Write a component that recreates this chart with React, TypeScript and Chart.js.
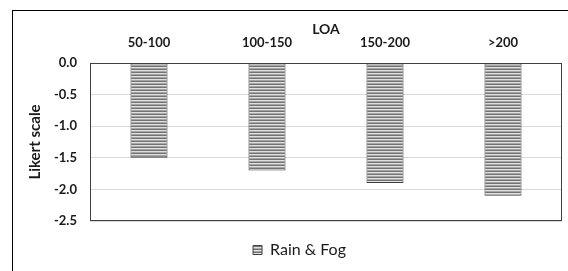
import { useEffect, useRef } from 'react';
import { Chart, registerables } from 'chart.js';

Chart.register(...registerables);

const categories = ['50-100', '100-150', '150-200', '>200'];
const rainFog = [-1.5, -1.7, -1.9, -2.1];
const seriesLabel = 'Rain & Fog';
const xTitle = 'LOA';
const yTitle = 'Likert scale';
const yMin = -2.5;
const yMax = 0;
const yStep = 0.5;

function makePattern(): CanvasPattern | string {
  const c = document.createElement('canvas');
  c.width = 4;
  c.height = 3;
  const g = c.getContext('2d');
  if (!g) return '#a6a6a6';
  g.fillStyle = '#737373';
  g.fillRect(0, 0, 4, 1);
  g.fillStyle = '#e0e0e0';
  g.fillRect(0, 1, 4, 1);
  g.fillStyle = '#a6a6a6';
  g.fillRect(0, 2, 4, 1);
  return g.createPattern(c, 'repeat') || '#a6a6a6';
}

const framePlugin = {
  id: 'plotFrame',
  afterDraw(chart: any) {
    const { ctx, chartArea } = chart;
    const l = Math.round(chartArea.left) + 0.5;
    const t = Math.round(chartArea.top) + 0.5;
    const r = Math.round(chartArea.right) - 0.5;
    const b = Math.round(chartArea.bottom) - 0.5;
    ctx.save();
    ctx.strokeStyle = '#404040';
    ctx.lineWidth = 1;
    ctx.strokeRect(l, t, r - l, b - t);
    ctx.restore();
  },
};

const PAD_TOP = 10;

export default function App() {
  const ref = useRef<HTMLCanvasElement | null>(null);

  useEffect(() => {
    if (!ref.current) return;
    const pattern = makePattern();
    const chart = new Chart(ref.current, {
      type: 'bar',
      data: {
        labels: categories,
        datasets: [
          {
            label: seriesLabel,
            data: rainFog,
            backgroundColor: pattern as any,
            borderColor: '#404040',
            borderWidth: 1,
            borderSkipped: false,
            barPercentage: 0.314,
            categoryPercentage: 1,
          },
        ],
      },
      options: {
        animation: false,
        responsive: false,
        devicePixelRatio: 1,
        layout: { padding: { left: 37, right: 6, top: PAD_TOP, bottom: 3 } },
        plugins: {
          tooltip: { enabled: false },
          legend: {
            position: 'bottom',
            labels: {
              boxWidth: 9,
              boxHeight: 9,
              padding: 21,
              color: '#1a1a1a',
              font: { family: 'Lato', size: 16, weight: 'normal' },
            },
          },
        },
        scales: {
          x: {
            position: 'top',
            grid: { display: false, drawTicks: false },
            border: { display: false },
            ticks: {
              padding: 12,
              maxRotation: 0,
              color: '#1a1a1a',
              font: { family: 'Lato', size: 13, weight: 'bold' },
            },
            title: {
              display: true,
              text: xTitle,
              color: '#1a1a1a',
              padding: { top: 11, bottom: 0 },
              font: { family: 'Lato', size: 14, weight: 'bold' },
            },
            afterFit: (s: any) => {
              s.height = 63 - PAD_TOP;
            },
          },
          y: {
            min: yMin,
            max: yMax,
            grid: { color: '#d9d9d9', drawTicks: false, lineWidth: 1 },
            border: { display: false },
            ticks: {
              stepSize: yStep,
              padding: 13,
              color: '#1a1a1a',
              font: { family: 'Lato', size: 13, weight: 'bold' },
              callback: (v: any) => Number(v).toFixed(1),
            },
            title: {
              display: true,
              text: yTitle,
              color: '#1a1a1a',
              padding: { top: -11, bottom: 0 },
              font: { family: 'Lato', size: 15, weight: 'bold' },
            },
            afterFit: (s: any) => {
              s.width = 53;
            },
          },
        },
      },
      plugins: [framePlugin],
    });
    return () => chart.destroy();
  }, []);

  return (
    <div style={{ position: 'fixed', left: 0, top: 0, width: 568, height: 271, background: '#fff', overflow: 'hidden' }}>
      <div
        style={{
          position: 'absolute',
          left: 12,
          top: 10,
          width: 600,
          height: 400,
          borderTop: '1px solid #000',
          borderLeft: '1px solid #000',
        }}
      />
      <canvas ref={ref} width={568} height={271} style={{ position: 'absolute', left: 0, top: 0, width: 568, height: 271 }} />
    </div>
  );
}
